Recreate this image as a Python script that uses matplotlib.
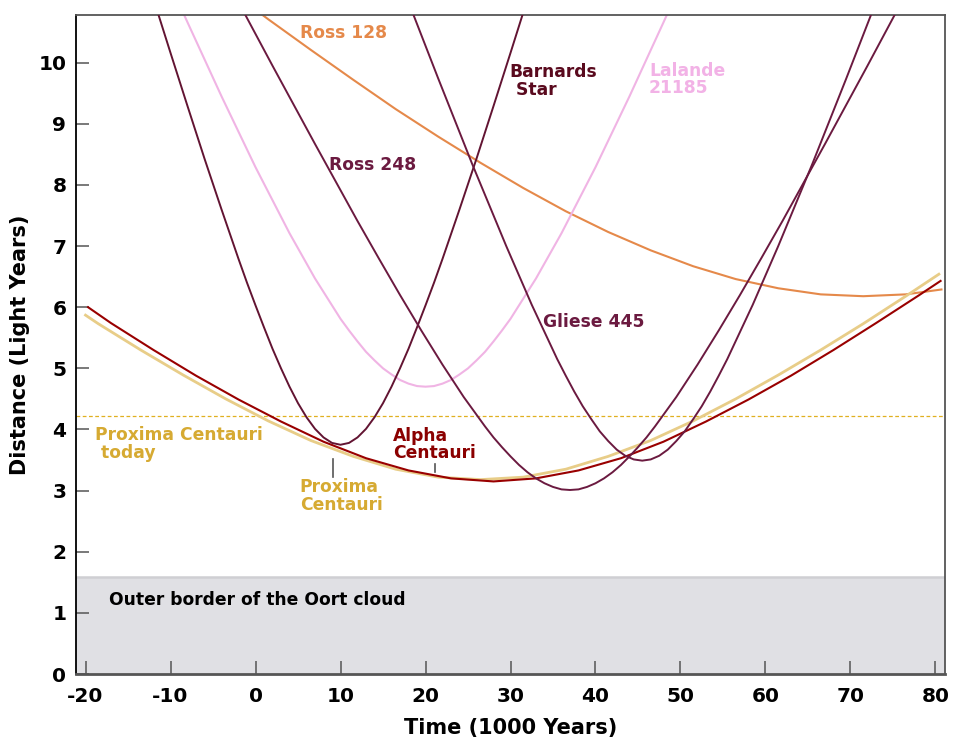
import matplotlib
matplotlib.use("Agg")
import matplotlib.pyplot as plt

# ---------------- data ----------------
# time in 1000 years, distance in light years
barnard_t = [-12, -10, -8, -6, -4, -2, -1, 0, 1, 2, 3, 4, 5, 6, 7, 8, 9, 10,
             11, 12, 13, 14, 15, 16, 17, 18, 19, 20, 21, 22, 24, 26, 28, 30, 32]
barnard_d = [11.04, 10.16, 9.29, 8.43, 7.60, 6.79, 6.40, 6.03, 5.67, 5.32, 5.00, 4.70, 4.43, 4.20,
             4.01, 3.87, 3.78, 3.75,
             3.78, 3.87, 4.01, 4.20, 4.43, 4.70, 5.00, 5.32, 5.67, 6.03, 6.40, 6.79, 7.60, 8.43,
             9.29, 10.16, 11.04]

ross248_t = [-3, 2, 7, 12, 14.5, 17, 19.5, 22, 24.5, 27, 28, 29, 30, 31, 32, 33, 34, 35, 36, 37,
             38, 39, 40, 41, 42, 43, 44, 45, 46, 47, 49.5, 52, 54.5, 57, 59.5, 62, 67, 72, 77]
ross248_d = [11.25, 9.95, 8.67, 7.41, 6.80, 6.20, 5.62, 5.06, 4.53, 4.05, 3.87, 3.71, 3.56, 3.42,
             3.30, 3.20, 3.12, 3.06, 3.02, 3.01,
             3.02, 3.06, 3.12, 3.20, 3.30, 3.42, 3.56, 3.71, 3.87, 4.05, 4.53, 5.06, 5.62, 6.20,
             6.80, 7.41, 8.67, 9.95, 11.25]

gliese_t = [17.5, 21.5, 25.5, 29.5, 32.5, 35.5, 36.5, 37.5, 38.5, 39.5, 40.5, 41.5, 42.5, 43.5,
            44.5, 45.5, 46.5, 47.5, 48.5, 49.5, 50.5, 51.5, 52.5, 53.5, 54.5, 55.5, 58.5, 61.5,
            65.5, 69.5, 73.5]
gliese_d = [11.17, 9.74, 8.34, 7.00, 6.04, 5.15, 4.88, 4.62, 4.38, 4.17, 3.97, 3.81, 3.67, 3.57,
            3.51, 3.49, 3.51, 3.57, 3.67, 3.81, 3.97, 4.17, 4.38, 4.62, 4.88, 5.15, 6.04, 7.00,
            8.34, 9.74, 11.17]

lalande_t = [-10, -8, -4, 0, 4, 7, 10, 11, 12, 13, 14, 15, 16, 17, 18, 19, 20,
             21, 22, 23, 24, 25, 26, 27, 28, 29, 30, 33, 36, 40, 44, 48, 50]
lalande_d = [11.27, 10.66, 9.45, 8.29, 7.21, 6.47, 5.81, 5.62, 5.44, 5.27, 5.13, 5.00, 4.90,
             4.81, 4.75, 4.71, 4.70,
             4.71, 4.75, 4.81, 4.90, 5.00, 5.13, 5.27, 5.44, 5.62, 5.81, 6.47, 7.21, 8.29, 9.45,
             10.66, 11.27]

ross128_t = [-3.5, 1.5, 6.5, 11.5, 16.5, 21.5, 26.5, 31.5, 36.5, 41.5, 46.5,
             51.5, 56.5, 61.5, 66.5, 71.5, 76.5, 80.7]
ross128_d = [11.23, 10.71, 10.21, 9.72, 9.24, 8.79, 8.36, 7.95, 7.57, 7.23, 6.93,
             6.67, 6.46, 6.31, 6.21, 6.18, 6.21, 6.29]

alpha_t = [-19.7, -17, -12, -7, -2, 3, 8, 13, 18, 23, 28, 33, 38, 43, 48, 53, 58, 63, 68, 73, 78, 80.6]
alpha_d = [6.00, 5.74, 5.30, 4.88, 4.49, 4.13, 3.80, 3.53, 3.33, 3.20, 3.15, 3.20,
           3.33, 3.53, 3.80, 4.13, 4.49, 4.88, 5.30, 5.74, 6.19, 6.43]

proxima_t = [-20, -18.5, -13.5, -8.5, -3.5, 1.5, 6.5, 11.5, 16.5, 21.5, 26.5, 31.5,
             36.5, 41.5, 46.5, 51.5, 56.5, 61.5, 66.5, 71.5, 76.5, 80.4]
proxima_d = [5.87, 5.73, 5.30, 4.89, 4.50, 4.14, 3.82, 3.56, 3.35, 3.22, 3.18, 3.22,
             3.35, 3.56, 3.82, 4.14, 4.50, 4.89, 5.30, 5.73, 6.18, 6.54]

proxima_today = 4.22
oort_border = 1.58

x_ticks = [-20, -10, 0, 10, 20, 30, 40, 50, 60, 70, 80]
y_ticks = [0, 1, 2, 3, 4, 5, 6, 7, 8, 9, 10]

# label texts: (text, t, d, color)
labels = [
    ("Ross 128", 5.2, 10.49, "#e5894a"),
    ("Ross 248", 8.6, 8.33, "#6b1a40"),
    ("Barnards", 29.9, 9.84, "#5a0a1e"),
    (" Star", 29.9, 9.55, "#5a0a1e"),
    ("Lalande", 46.3, 9.87, "#f2b2e6"),
    ("21185", 46.3, 9.58, "#f2b2e6"),
    ("Gliese 445", 33.8, 5.76, "#6b1a40"),
    ("Alpha", 16.2, 3.90, "#8b0000"),
    ("Centauri", 16.2, 3.61, "#8b0000"),
    ("Proxima", 5.2, 3.06, "#d6aa32"),
    ("Centauri", 5.2, 2.77, "#d6aa32"),
    ("Proxima Centauri", -18.9, 3.91, "#d6aa32"),
    (" today", -18.9, 3.62, "#d6aa32"),
    ("Outer border of the Oort cloud", -17.2, 1.21, "black"),
]
# small pointer marks: (t, d_low, d_high)
pointers = [(9.1, 3.22, 3.52), (21.1, 3.31, 3.44)]

# ---------------- figure ----------------
plt.rcParams['font.family'] = ['DejaVu Sans']
plt.rcParams['axes.unicode_minus'] = False
fig = plt.figure(figsize=(9.59, 7.5), dpi=100)
ax = fig.add_axes([76 / 959, 76 / 750, (945 - 76) / 959, (674 - 15) / 750])
ax.set_xlim(-21.12, 81.12)
ax.set_ylim(0, 10.78)

ax.axhspan(0, oort_border, color="#e0e0e4", zorder=0, lw=0)
ax.axhline(oort_border, color="#cfcfd3", lw=1.8, zorder=0.5)
ax.axhline(proxima_today, color="#e0b020", lw=0.9, ls=(0, (3, 2)), zorder=1)

ax.plot(ross128_t, ross128_d, color="#e5894a", lw=1.5, zorder=2)
ax.plot(lalande_t, lalande_d, color="#f0b4e4", lw=1.5, zorder=2)
ax.plot(proxima_t, proxima_d, color="#e8cd88", lw=2.0, zorder=2)
ax.plot(alpha_t, alpha_d, color="#990000", lw=1.5, zorder=3)
ax.plot(barnard_t, barnard_d, color="#621432", lw=1.4, zorder=3)
ax.plot(ross248_t, ross248_d, color="#6b1a40", lw=1.4, zorder=3)
ax.plot(gliese_t, gliese_d, color="#6b1a40", lw=1.4, zorder=3)

for t, d0, d1 in pointers:
    ax.plot([t, t], [d0, d1], color="#555555", lw=1.2, zorder=3)

for txt, t, d, c in labels:
    ax.text(t, d, txt, color=c, fontsize=12.3, fontweight="bold",
            ha="left", va="center", zorder=4)

ax.set_xticks(x_ticks)
ax.set_yticks(y_ticks)
ax.tick_params(axis="both", direction="in", length=9.5, width=1.1, color="#555555",
               labelsize=14.5)
ax.tick_params(axis="x", pad=9)
ax.tick_params(axis="y", pad=7)
for lab in ax.get_xticklabels() + ax.get_yticklabels():
    lab.set_fontweight("bold")

for s in ["top", "right", "bottom"]:
    ax.spines[s].set_color("#555555")
    ax.spines[s].set_linewidth(1.3)
ax.spines["left"].set_color("black")
ax.spines["left"].set_linewidth(1.3)
ax.spines["bottom"].set_linewidth(2)

ax.set_xlabel("Time (1000 Years)", fontsize=15, fontweight="bold", labelpad=9)
ax.set_ylabel("Distance (Light Years)", fontsize=15, fontweight="bold", labelpad=6)

fig.savefig("out.png", dpi=100)
